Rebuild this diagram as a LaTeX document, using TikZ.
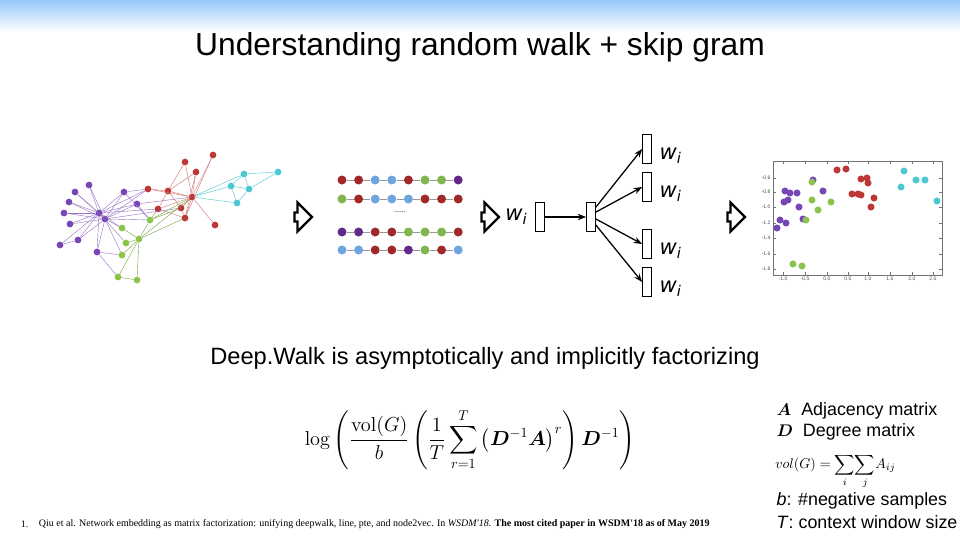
\documentclass[tikz,border=0pt]{standalone}
\usepackage{amsmath,amssymb}
\usepackage{bm}
\usepackage[no-math]{fontspec}
\setmainfont{Liberation Sans}
\newfontfamily\refserif{Liberation Serif}
\newfontfamily\vecfont{DejaVu Sans}
\usetikzlibrary{arrows.meta,positioning,shapes.arrows}

\definecolor{bandblue}{RGB}{150,200,250}
\definecolor{gpurple}{RGB}{120,70,180}
\definecolor{ggreen}{RGB}{140,195,75}
\definecolor{gred}{RGB}{190,55,55}
\definecolor{gcyan}{RGB}{75,200,210}
\definecolor{wred}{RGB}{160,40,40}
\definecolor{wblue}{RGB}{110,165,225}
\definecolor{wgreen}{RGB}{130,180,80}
\definecolor{wpurple}{RGB}{100,40,140}

\newcommand{\wvec}{{\vecfont\itshape w\textsubscript{i}}}

\begin{document}
\begin{tikzpicture}[x=0.025cm,y=-0.025cm,
    gnode/.style={circle,inner sep=0pt,minimum size=4.8pt},
    pedge/.style={gpurple!75,line width=0.3pt},
    redge/.style={gred!70,line width=0.3pt},
    gedge/.style={ggreen!85!black,line width=0.3pt},
    cedge/.style={gcyan,line width=0.3pt},
    walkdot/.style={circle,inner sep=0pt,minimum size=6.4pt},
    walkline/.style={black!40,line width=0.5pt},
    hollowarrow/.style={single arrow,draw,line width=1.6pt,fill=white,
        inner sep=2.4pt,minimum width=12.5pt,minimum height=12.5pt},
    vecbox/.style={draw,line width=0.9pt,inner sep=0pt,minimum width=6pt,minimum height=20.5pt},
    vecarrow/.style={-{Stealth[length=6pt,width=4.5pt]},line width=0.9pt},
    pdot/.style={circle,inner sep=0pt,minimum size=5pt},
    ticklab/.style={font=\fontsize{3.6}{4}\selectfont,text=black!70,inner sep=1pt},
    legend/.style={font=\fontsize{12.7}{14}\selectfont,anchor=west,inner sep=1pt}]
\useasboundingbox (0,0) rectangle (960,540);

% top band and title
\shade[top color=bandblue,bottom color=white] (0,0) rectangle (960,32);
\node[font=\fontsize{22.6}{26}\selectfont] (title) at (480,47) {Understanding random walk + skip gram};

% karate club graph
\foreach \n/\x/\y in {p1/89/185,p2/75/192,p3/69/202,p4/64/213,p5/70/224,p6/60/245,
    p7/78/240,p8/97/252,p9/99/213,p10/105/219,p11/124/192,p12/137/204}
  \node[gnode,fill=gpurple] (\n) at (\x,\y) {};
\foreach \n/\x/\y in {g1/122/228,g2/126/243,g3/139/239,g4/150/220,g5/122/255,g6/118/277,g7/137/280}
  \node[gnode,fill=ggreen] (\n) at (\x,\y) {};
\foreach \n/\x/\y in {r1/148/189,r2/168/191,r3/185/162,r4/196/172,r5/213/155,
    r6/192/197,r7/158/209,r8/181/208,r9/185/218,r10/215/225}
  \node[gnode,fill=gred] (\n) at (\x,\y) {};
\foreach \n/\x/\y in {c1/244/174,c2/278/172,c3/231/186,c4/249/189,c5/237/203}
  \node[gnode,fill=gcyan] (\n) at (\x,\y) {};

\foreach \a/\b in {p9/p1,p9/p2,p9/p3,p9/p4,p9/p5,p9/p6,p9/p7,p9/p8,p9/p11,p9/p12,p9/g1,p9/g2,p9/r1,p9/r7,
    p10/p1,p10/p2,p10/p3,p10/p4,p10/p5,p10/p7,p10/p8,p10/p11,p10/p12,p10/g1,p10/g5,p10/r1,p10/r8,p10/g4,
    p6/p7,p9/p10,p11/r1,p11/g4,p12/r6,p12/g4,p8/g5,p8/g6}
  \draw[pedge] (\a) -- (\b);
\foreach \a/\b in {g1/g3,g2/g3,g3/g4,g3/g6,g3/g7,g5/g3,g6/g7,g4/r6,g3/r6,g4/r7,g4/r8,g3/r9}
  \draw[gedge] (\a) -- (\b);
\foreach \a/\b in {r1/r2,r2/r6,r3/r6,r4/r6,r5/r6,r3/r2,r4/r2,r6/r8,r6/r9,r6/r10,r2/r8,
    r8/r9,r9/r7,r7/r2,r6/r7,r4/r9,r6/r1,r5/r9}
  \draw[redge] (\a) -- (\b);
\foreach \a/\b in {c1/c2,c1/c3,c1/c4,c2/c4,c3/c4,c3/c5,c4/c5,r6/c1,r6/c3,r6/c5}
  \draw[cedge] (\a) -- (\b);

% hollow arrows between the stages
\node[hollowarrow] (step1) at (301,217) {};
\node[hollowarrow] (step2) at (488,217) {};
\node[hollowarrow] (step3) at (734,217) {};

% random walk sequences
\foreach \row/\y/\cols in {1/180/{wred,wred,wblue,wblue,wred,wgreen,wgreen,wpurple},
    2/199/{wgreen,wred,wblue,wblue,wblue,wred,wred,wred},
    3/232/{wpurple,wpurple,wred,wred,wgreen,wgreen,wgreen,wred},
    4/250/{wblue,wblue,wred,wred,wpurple,wgreen,wred,wblue}}{
  \foreach \c [count=\k] in \cols
    \node[walkdot,fill=\c] (s\row-\k) at ({342+16.6*(\k-1)},\y) {};
  \foreach \k [remember=\k as \j (initially 1)] in {2,...,8}
    \draw[walkline] (s\row-\j) -- (s\row-\k);
}
\node[font=\fontsize{5}{6}\selectfont] (ellip) at (400,212) {......};

% skip gram
\node[vecbox] (win) at (540,217) {};
\node[font=\fontsize{15}{16}\selectfont,left=2pt of win] (winlab) {\wvec};
\node[vecbox] (hid) at (591,217) {};
\foreach \o/\y in {o1/149,o2/187,o3/244,o4/282}{
  \node[vecbox] (\o) at (647,\y) {};
  \node[font=\fontsize{15}{16}\selectfont,anchor=west] (\o lab) at ([xshift=2pt,yshift=-5pt]\o.east) {\wvec};
}
\draw[vecarrow] (win) -- (hid);
\foreach \o/\s in {o1/7pt,o2/3.5pt,o3/-1.4pt,o4/-5.7pt}
  \draw[vecarrow] ([yshift=\s]hid.east) -- (\o.west);

% embedding scatter plot
\draw[black!55,line width=0.4pt] (773,161) rectangle (942,275);
\foreach \x/\l in {783/-1.0,805/-0.5,827/0.0,848/0.5,868/1.0,890/1.5,912/2.0,933/2.5}{
  \draw[black!55,line width=0.3pt] (\x,275) -- (\x,272) (\x,161) -- (\x,164);
  \node[ticklab] at (\x,279) {\l};
}
\foreach \y/\l in {178/-0.6,192/-0.8,207/-1.0,223/-1.2,238/-1.4,254/-1.6,269/-1.8}{
  \draw[black!55,line width=0.3pt] (773,\y) -- (776,\y) (942,\y) -- (939,\y);
  \node[ticklab,anchor=east] at (772,\y) {\l};
}
\foreach \x/\y in {813/180,785/191,790/193,797/193,823/191,784/202,788/200,799/207,
    803/219,780/220,786/223,777/228}
  \node[pdot,fill=gpurple] at (\x,\y) {};
\foreach \x/\y in {812/182,812/200,831/202,818/210,806/220,793/264,802/266}
  \node[pdot,fill=ggreen] at (\x,\y) {};
\foreach \x/\y in {837/170,846/169,861/179,867/178,868/183,852/194,858/194,861/195,874/198,871/207}
  \node[pdot,fill=gred] at (\x,\y) {};
\foreach \x/\y in {904/171,916/180,925/180,901/187,937/201}
  \node[pdot,fill=gcyan] at (\x,\y) {};

% factorization
\node[font=\fontsize{16.8}{20}\selectfont] (claim) at (485,358) {Deep.Walk is asymptotically and implicitly factorizing};
\node[font=\fontsize{14}{16}\selectfont] (formula) at (470,440)
  {$\displaystyle \log\left(\frac{\mathrm{vol}(G)}{b}\left(\frac{1}{T}\sum_{r=1}^{T}\left(\bm{D}^{-1}\bm{A}\right)^{r}\right)\bm{D}^{-1}\right)$};

% legend
\node[legend] (adj) at (775,411) {$\bm{A}$\ \ Adjacency matrix};
\node[legend] (deg) at (775,432) {$\bm{D}$\ \ Degree matrix};
\node[font=\fontsize{10}{12}\selectfont,anchor=west,inner sep=0pt] (vol) at (775,471)
  {$vol(G)=\displaystyle\sum_i\!\sum_j\! A_{ij}$};
\node[legend] (neg) at (775,501) {\textit{b}: \#negative samples};
\node[legend] (win2) at (775,522) {\textit{T}: context window size};

% reference
\node[font=\refserif\fontsize{7.1}{9}\selectfont,anchor=west] (num) at (16,524) {1.};
\node[font=\refserif\fontsize{7.1}{9}\selectfont,anchor=west] (cite) at (34,524)
  {Qiu et al. Network embedding as matrix factorization: unifying deepwalk, line, pte, and node2vec. In \textit{WSDM'18.} \textbf{The most cited paper in WSDM'18 as of May 2019}};
\end{tikzpicture}
\end{document}
